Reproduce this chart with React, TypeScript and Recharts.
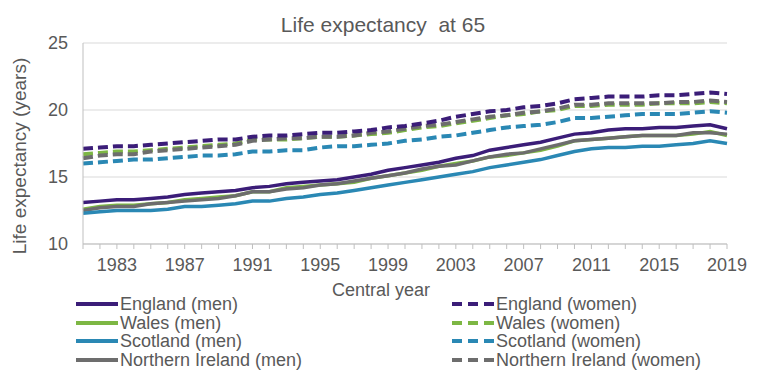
import React from 'react';
import { LineChart, Line, XAxis, YAxis, CartesianGrid } from 'recharts';

const years = [1981, 1982, 1983, 1984, 1985, 1986, 1987, 1988, 1989, 1990, 1991, 1992, 1993, 1994, 1995, 1996, 1997, 1998, 1999, 2000, 2001, 2002, 2003, 2004, 2005, 2006, 2007, 2008, 2009, 2010, 2011, 2012, 2013, 2014, 2015, 2016, 2017, 2018, 2019];
const labelYears = [1983, 1987, 1991, 1995, 1999, 2003, 2007, 2011, 2015, 2019];
const yTicks = [10, 15, 20, 25];

const englandMen = [13.1, 13.2, 13.3, 13.3, 13.4, 13.5, 13.7, 13.8, 13.9, 14.0, 14.2, 14.3, 14.5, 14.6, 14.7, 14.8, 15.0, 15.2, 15.5, 15.7, 15.9, 16.1, 16.4, 16.6, 17.0, 17.2, 17.4, 17.6, 17.9, 18.2, 18.3, 18.5, 18.6, 18.6, 18.7, 18.7, 18.8, 18.9, 18.6];
const walesMen = [12.6, 12.8, 12.9, 12.9, 13.0, 13.1, 13.3, 13.4, 13.5, 13.6, 13.9, 13.9, 14.2, 14.3, 14.4, 14.5, 14.6, 14.9, 15.1, 15.3, 15.5, 15.8, 16.0, 16.2, 16.5, 16.6, 16.8, 17.0, 17.3, 17.7, 17.8, 17.9, 18.0, 18.1, 18.1, 18.1, 18.2, 18.4, 18.1];
const scotlandMen = [12.3, 12.4, 12.5, 12.5, 12.5, 12.6, 12.8, 12.8, 12.9, 13.0, 13.2, 13.2, 13.4, 13.5, 13.7, 13.8, 14.0, 14.2, 14.4, 14.6, 14.8, 15.0, 15.2, 15.4, 15.7, 15.9, 16.1, 16.3, 16.6, 16.9, 17.1, 17.2, 17.2, 17.3, 17.3, 17.4, 17.5, 17.7, 17.5];
const niMen = [12.5, 12.7, 12.8, 12.8, 13.0, 13.1, 13.2, 13.3, 13.4, 13.6, 13.9, 13.9, 14.1, 14.2, 14.4, 14.5, 14.7, 14.9, 15.1, 15.3, 15.6, 15.8, 15.9, 16.2, 16.5, 16.7, 16.8, 17.1, 17.4, 17.7, 17.8, 17.9, 18.0, 18.1, 18.1, 18.1, 18.3, 18.3, 18.2];
const englandWomen = [17.1, 17.2, 17.3, 17.3, 17.4, 17.5, 17.6, 17.7, 17.8, 17.8, 18.0, 18.1, 18.1, 18.2, 18.3, 18.3, 18.4, 18.5, 18.7, 18.8, 19.0, 19.2, 19.5, 19.7, 19.9, 20.0, 20.2, 20.3, 20.5, 20.8, 20.9, 21.0, 21.0, 21.0, 21.1, 21.1, 21.2, 21.3, 21.2];
const walesWomen = [16.7, 16.8, 16.9, 16.9, 17.0, 17.1, 17.2, 17.3, 17.4, 17.5, 17.8, 17.8, 17.8, 17.9, 18.0, 18.0, 18.1, 18.2, 18.3, 18.5, 18.7, 18.8, 19.0, 19.2, 19.4, 19.6, 19.7, 19.9, 20.0, 20.3, 20.3, 20.4, 20.4, 20.4, 20.5, 20.5, 20.5, 20.6, 20.5];
const scotlandWomen = [16.0, 16.1, 16.2, 16.3, 16.3, 16.4, 16.5, 16.6, 16.6, 16.7, 16.9, 16.9, 17.0, 17.0, 17.2, 17.3, 17.3, 17.4, 17.5, 17.7, 17.8, 18.0, 18.1, 18.3, 18.5, 18.7, 18.8, 18.9, 19.1, 19.4, 19.4, 19.5, 19.6, 19.7, 19.7, 19.7, 19.8, 19.9, 19.8];
const niWomen = [16.4, 16.6, 16.7, 16.7, 16.9, 17.0, 17.1, 17.2, 17.3, 17.4, 17.7, 17.8, 17.9, 17.9, 18.0, 18.0, 18.1, 18.3, 18.4, 18.6, 18.8, 18.9, 19.1, 19.3, 19.5, 19.6, 19.8, 19.9, 20.1, 20.4, 20.4, 20.5, 20.5, 20.5, 20.5, 20.6, 20.6, 20.7, 20.6];

const C_ENG = '#3b1d78';
const C_WAL = '#7db744';
const C_SCO = '#2a88b4';
const C_NI = '#6d6d6d';
const TEXT = '#595959';
const FONT = "'Liberation Sans', Arial, sans-serif";

const data = years.map((y, i) => ({
  year: y,
  engM: englandMen[i],
  walM: walesMen[i],
  scoM: scotlandMen[i],
  niM: niMen[i],
  engW: englandWomen[i],
  walW: walesWomen[i],
  scoW: scotlandWomen[i],
  niW: niWomen[i],
}));

const leftLegend = [
  { label: 'England (men)', color: C_ENG },
  { label: 'Wales (men)', color: C_WAL },
  { label: 'Scotland (men)', color: C_SCO },
  { label: 'Northern Ireland (men)', color: C_NI },
];
const rightLegend = [
  { label: 'England (women)', color: C_ENG },
  { label: 'Wales (women)', color: C_WAL },
  { label: 'Scotland (women)', color: C_SCO },
  { label: 'Northern Ireland (women)', color: C_NI },
];
const rowY = [304, 322.5, 341, 359.5];

const LegendItem = ({ x, y, label, color, dashed }: { x: number; y: number; label: string; color: string; dashed: boolean }) => (
  <div style={{ position: 'absolute', left: x, top: y - 9, height: 18, display: 'flex', alignItems: 'center', whiteSpace: 'nowrap' }}>
    <svg width={42} height={8} style={{ display: 'block' }}>
      <line x1={0} y1={4} x2={42} y2={4} stroke={color} strokeWidth={4} strokeDasharray={dashed ? '10 6' : undefined} />
    </svg>
    <span style={{ marginLeft: 2, fontSize: 18, color: TEXT, fontFamily: FONT, lineHeight: '18px', height: 18 }}>{label}</span>
  </div>
);

export default function App() {
  return (
    <div style={{ position: 'absolute', left: 0, top: 0, width: 770, height: 377, background: '#fff', fontFamily: FONT }}>
      <LineChart width={770} height={377} data={data} margin={{ top: 43, right: 43, bottom: 103, left: 23 }}>
        <CartesianGrid horizontal={true} vertical={false} stroke="#d9d9d9" strokeWidth={1.2} />
        <XAxis
          dataKey="year"
          type="category"
          interval={0}
          height={30}
          tickFormatter={(v: number) => (labelYears.includes(v) ? String(v) : '')}
          tick={{ fontSize: 18, fill: TEXT, fontFamily: FONT }}
          tickLine={{ stroke: '#bfbfbf' }}
          axisLine={{ stroke: '#bfbfbf' }}
          tickSize={5}
          tickMargin={9}
        />
        <YAxis
          type="number"
          domain={[10, 25]}
          ticks={yTicks}
          width={60}
          tick={{ fontSize: 18, fill: TEXT, fontFamily: FONT }}
          tickLine={false}
          axisLine={{ stroke: '#bfbfbf' }}
          tickSize={0}
          tickMargin={15}
        />
        <Line dataKey="walW" stroke={C_WAL} strokeWidth={4} strokeDasharray="10 5" dot={false} isAnimationActive={false} />
        <Line dataKey="niW" stroke={C_NI} strokeWidth={4} strokeDasharray="10 5" dot={false} isAnimationActive={false} />
        <Line dataKey="scoW" stroke={C_SCO} strokeWidth={4} strokeDasharray="10 5" dot={false} isAnimationActive={false} />
        <Line dataKey="engW" stroke={C_ENG} strokeWidth={4} strokeDasharray="10 5" dot={false} isAnimationActive={false} />
        <Line dataKey="walM" stroke={C_WAL} strokeWidth={3.5} dot={false} isAnimationActive={false} />
        <Line dataKey="niM" stroke={C_NI} strokeWidth={3.5} dot={false} isAnimationActive={false} />
        <Line dataKey="scoM" stroke={C_SCO} strokeWidth={3.5} dot={false} isAnimationActive={false} />
        <Line dataKey="engM" stroke={C_ENG} strokeWidth={3.5} dot={false} isAnimationActive={false} />
      </LineChart>

      <div style={{ position: 'absolute', left: 383, top: 25, width: 0, height: 0 }}>
        <div style={{ position: 'absolute', left: 0, top: 0, transform: 'translate(-50%, -50%)', whiteSpace: 'pre', fontSize: 21, color: TEXT, fontFamily: FONT, lineHeight: '24px' }}>
          Life expectancy  at 65
        </div>
      </div>

      <div style={{ position: 'absolute', left: 20, top: 156, width: 0, height: 0 }}>
        <div style={{ position: 'absolute', left: 0, top: 0, transform: 'translate(-50%, -50%) rotate(-90deg)', whiteSpace: 'nowrap', fontSize: 19, color: TEXT, fontFamily: FONT, lineHeight: '22px' }}>
          Life expectancy (years)
        </div>
      </div>

      <div style={{ position: 'absolute', left: 381, top: 290, width: 0, height: 0 }}>
        <div style={{ position: 'absolute', left: 0, top: 0, transform: 'translate(-50%, -50%)', whiteSpace: 'nowrap', fontSize: 18, color: TEXT, fontFamily: FONT, lineHeight: '18px' }}>
          Central year
        </div>
      </div>

      {leftLegend.map((it, i) => (
        <LegendItem key={it.label} x={76} y={rowY[i]} label={it.label} color={it.color} dashed={false} />
      ))}
      {rightLegend.map((it, i) => (
        <LegendItem key={it.label} x={452} y={rowY[i]} label={it.label} color={it.color} dashed={true} />
      ))}
    </div>
  );
}
